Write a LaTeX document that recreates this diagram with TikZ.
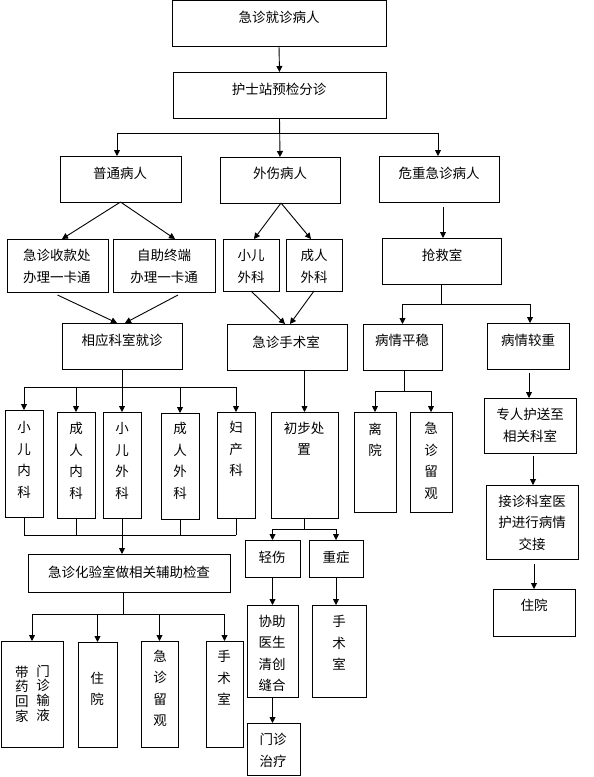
\documentclass[tikz,border=0pt]{standalone}
\usepackage{fontspec}
\newfontfamily\cjk{Noto Sans CJK SC}
\usetikzlibrary{arrows.meta}
\newcommand\mybox[5]{\node[box,minimum width={(#4)-(#2)},minimum height={(#5)-(#3)}] (#1) at ({((#2)+(#4))/2},{((#3)+(#5))/2}) {};}
\begin{document}
\begin{tikzpicture}[x=1pt,y=-1pt,
  box/.style={draw,line width=0.8pt,inner sep=0pt,outer sep=0pt},
  txt/.style={inner sep=0pt,align=center,font=\cjk\fontsize{13.5}{21.5}\selectfont},
  tcol/.style={inner sep=0pt,align=center,font=\cjk\fontsize{13.5}{14.6}\selectfont},
  ln/.style={line width=0.9pt},
  arr/.style={line width=0.9pt,-{Triangle[width=6pt,length=6pt]}}]
\useasboundingbox[fill=white] (0,0) rectangle (594,777);
% boxes
\mybox{a}{172}{0}{386}{46}
\mybox{b}{173}{72}{386}{118}
\mybox{c1}{60}{156}{181}{202}
\mybox{c2}{220}{157}{340}{203}
\mybox{c3}{379}{156}{499}{202}
\mybox{d1}{7}{239}{108}{292}
\mybox{d2}{113}{239}{215}{292}
\mybox{d3}{223}{239}{279}{291}
\mybox{d4}{286}{239}{342}{291}
\mybox{e1}{62}{323}{182}{369}
\mybox{e2}{227}{324}{347}{370}
\mybox{r1}{382}{238}{501}{284}
\mybox{r2}{363}{324}{442}{370}
\mybox{r3}{487}{323}{569}{369}
\mybox{f1}{5}{410}{43}{517}
\mybox{f2}{57}{412}{95}{518}
\mybox{f3}{103}{412}{141}{518}
\mybox{f4}{161}{413}{199}{519}
\mybox{f5}{217}{412}{255}{518}
\mybox{g}{271}{412}{338}{518}
\mybox{h1}{354}{412}{396}{512}
\mybox{h2}{410}{412}{452}{512}
\mybox{s1}{484}{398}{576}{453}
\mybox{s2}{486}{485}{578}{559}
\mybox{s3}{493}{589}{575}{636}
\mybox{k}{28}{554}{230}{592}
\mybox{m1}{245}{540}{300}{577}
\mybox{m2}{309}{540}{363}{577}
\mybox{n1}{247}{605}{298}{697}
\mybox{n2}{312}{605}{366}{697}
\mybox{n3}{247}{723}{300}{775}
\mybox{p1}{1}{641}{63}{747}
\mybox{p2}{78}{642}{117}{747}
\mybox{p3}{141}{641}{178}{747}
\mybox{p4}{206}{641}{243}{747}
% texts
\node[txt] (a-t) at (279,17) {急诊就诊病人};
\node[txt] (b-t) at (279,89) {护士站预检分诊};
\node[txt] (c1-t) at (120,173) {普通病人};
\node[txt] (c2-t) at (280,173) {外伤病人};
\node[txt] (c3-t) at (439,173) {危重急诊病人};
\node[txt] (d1-t) at (57,266.5) {急诊收款处\\办理一卡通};
\node[txt] (d2-t) at (164,266.5) {自助终端\\办理一卡通};
\node[txt] (d3-t) at (251,266.5) {小儿\\外科};
\node[txt] (d4-t) at (314,266.5) {成人\\外科};
\node[txt] (e1-t) at (122,340) {相应科室就诊};
\node[txt] (e2-t) at (286,342) {急诊手术室};
\node[txt] (r1-t) at (442,255) {抢救室};
\node[txt] (r2-t) at (402,340) {病情平稳};
\node[txt] (r3-t) at (528,340) {病情较重};
\node[txt] (f1-t) at (24,460) {小\\儿\\内\\科};
\node[txt] (f2-t) at (76,461) {成\\人\\内\\科};
\node[txt] (f3-t) at (122,461) {小\\儿\\外\\科};
\node[txt] (f4-t) at (180,461) {成\\人\\外\\科};
\node[txt] (f5-t) at (236,449) {妇\\产\\科};
\node[txt] (g-t) at (304,438.5) {初步处\\置};
\node[txt] (h1-t) at (375,440) {离\\院};
\node[txt] (h2-t) at (431,461) {急\\诊\\留\\观};
\node[txt] (s1-t) at (530,425.5) {专人护送至\\相关科室};
\node[txt] (s2-t) at (532,522.5) {接诊科室医\\护进行病情\\交接};
\node[txt] (s3-t) at (534,605) {住院};
\node[txt] (k-t) at (129,572) {急诊化验室做相关辅助检查};
\node[txt] (m1-t) at (272,557) {轻伤};
\node[txt] (m2-t) at (336,557) {重症};
\node[txt] (n1-t) at (272,653.5) {协助\\医生\\清创\\缝合};
\node[txt] (n2-t) at (339,643) {手\\术\\室};
\node[txt] (n3-t) at (273,750.5) {门诊\\治疗};
\node[tcol] (p1-l) at (22,694) {带\\药\\回\\家};
\node[tcol] (p1-r) at (43,693) {门\\诊\\输\\液};
\node[txt] (p2-t) at (97,689) {住\\院};
\node[txt] (p3-t) at (160,688.5) {急\\诊\\留\\观};
\node[txt] (p4-t) at (224,678) {手\\术\\室};
% connectors
\draw[arr] (a.south) -- (b.north);
\coordinate (j1) at (280,133);
\draw[arr] (b.south) -- (c2.north);
\draw[ln] (117,133) coordinate (j1l) -- (438,133) coordinate (j1r);
\draw[arr] (j1l) -- (j1l |- c1.north);
\draw[arr] (j1r) -- (j1r |- c3.north);
\draw[arr] (c1.south) -- ([xshift=4.5pt]d1.north);
\draw[arr] (c1.south) -- ([xshift=11pt]d2.north);
\draw[arr] ([yshift=-3pt]d1.south) -- ([xshift=-5pt]e1.north);
\draw[arr] ([xshift=14pt,yshift=-3pt]d2.south) -- ([xshift=3pt]e1.north);
\draw[arr] ([xshift=1pt]c2.south) -- ([xshift=3pt]d3.north);
\draw[arr] ([xshift=1pt]c2.south) -- ([xshift=-3pt]d4.north);
\draw[arr] (d3.south) -- ([xshift=-2pt]e2.north);
\draw[arr] (d4.south) -- ([xshift=3pt]e2.north);
% critical branch
\draw[arr] ([xshift=4pt,yshift=-5pt]c3.south) -- ([xshift=1.5pt]r1.north);
\coordinate (j3) at ([yshift=-20pt]r1.south);
\draw[ln] (r1.south) -- (j3);
\draw[ln] (r2.north |- j3) -- ([xshift=2pt]r3.north |- j3);
\draw[arr] (r2.north |- j3) -- (r2.north);
\draw[arr] ([xshift=2pt]r3.north |- j3) -- ([xshift=2pt]r3.north);
\coordinate (j7) at ([yshift=-21pt,xshift=1.5pt]r2.south);
\draw[ln] ([xshift=1.5pt]r2.south) -- (j7);
\draw[ln] (h1.north |- j7) -- (h2.north |- j7);
\draw[arr] (h1.north |- j7) -- (h1.north);
\draw[arr] (h2.north |- j7) -- (h2.north);
\draw[arr] ([xshift=1pt,yshift=-4pt]r3.south) -- ([xshift=1pt]r3.south |- s1.north);
\draw[arr] ([xshift=3pt,yshift=-3pt]s1.south) -- ([xshift=1pt]s2.north);
\draw[arr] ([xshift=2pt,yshift=-5pt]s2.south) -- (s3.north);
% departments
\coordinate (j4) at ([yshift=-18pt]e1.south);
\draw[ln] (e1.south) -- (j4);
\draw[ln] (f1.north |- j4) -- (f5.north |- j4);
\foreach \f in {f1,f2,f3,f4,f5} {\draw[arr] (\f.north |- j4) -- (\f.north);}
\coordinate (j5) at ([yshift=-17pt]f3.south);
\draw[ln] (f1.south |- j5) -- (f5.south |- j5);
\foreach \f in {f1,f2,f3,f4,f5} {\draw[ln] (\f.south) -- (\f.south |- j5);}
\draw[arr] (j5) -- (j5 |- k.north);
\coordinate (j6) at (123,614);
\draw[ln] (j6 |- k.south) -- (j6);
\draw[ln] (p1.north |- j6) -- (p4.north |- j6);
\foreach \p in {p1,p2,p3,p4} {\draw[arr] (\p.north |- j6) -- (\p.north);}
% surgery branch
\draw[arr] (g.north |- e2.south) -- (g.north);
\coordinate (j8) at ([yshift=-11pt]g.south);
\draw[ln] (g.south) -- (j8);
\draw[ln] (m1.north |- j8) -- (m2.north |- j8);
\draw[arr] (m1.north |- j8) -- (m1.north);
\draw[arr] (m2.north |- j8) -- (m2.north);
\draw[arr] (m1.south) -- (n1.north);
\draw[arr] (m2.south) -- (m2.south |- n2.north);
\draw[arr] (n1.south) -- (n1.south |- n3.north);
\end{tikzpicture}
\end{document}
